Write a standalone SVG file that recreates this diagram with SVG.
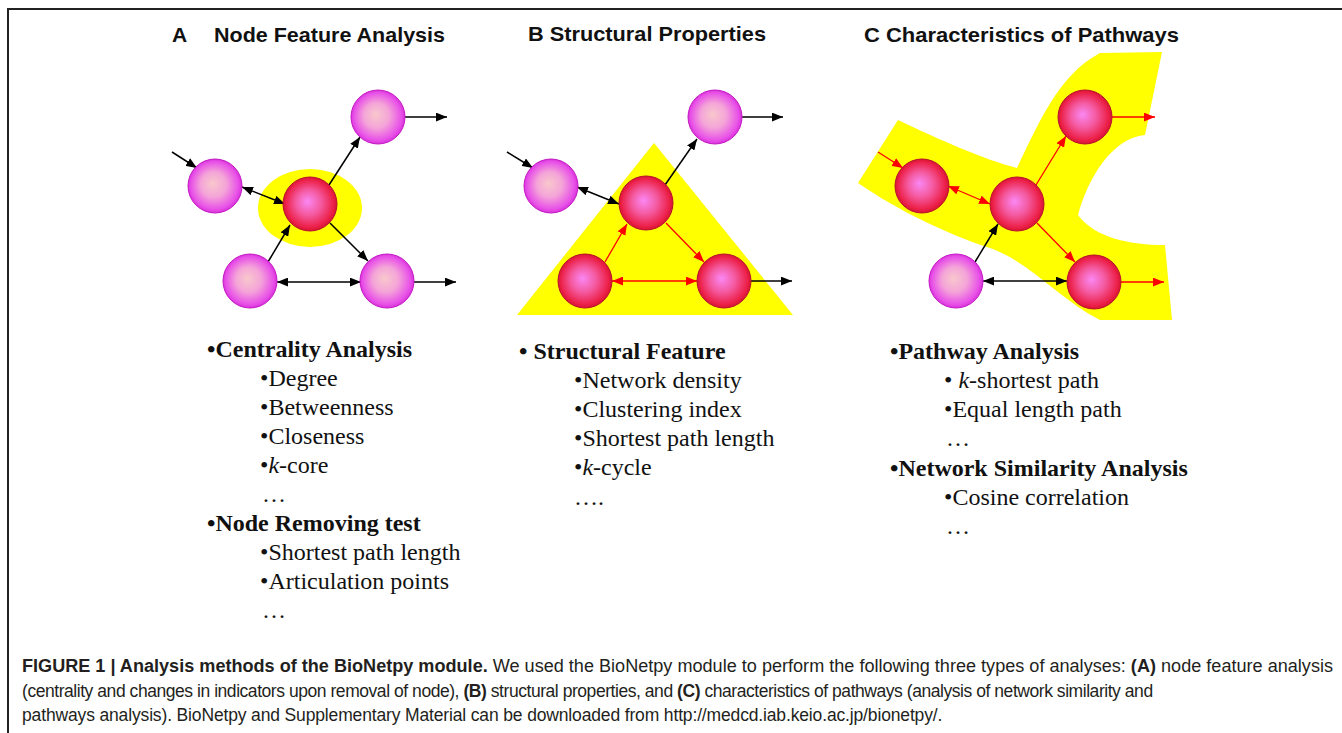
<svg xmlns="http://www.w3.org/2000/svg" width="1342" height="733" viewBox="0 0 1342 733">
  <style>
    .hdr { font-family: "Liberation Sans", Arial, sans-serif; font-weight: bold; font-size: 21px; fill: #111; }
    .lst { font-family: "Liberation Serif", "Times New Roman", serif; font-size: 24px; fill: #111; }
    .lst .b { font-weight: bold; }
    .cap { font-family: "Liberation Sans", Arial, sans-serif; font-size: 17.5px; fill: #231f20; }
    .cap .b { font-weight: bold; }
    .k { stroke: #000; stroke-width: 1.5; fill: none; }
    .r { stroke: #ff0000; stroke-width: 1.3; fill: none; }
    .hi { fill: #ffff00; }
    .pink { fill: url(#gPink); stroke: #c418c4; stroke-width: 1; }
    .red { fill: url(#gRed); stroke: #b8102c; stroke-width: 1; }
  </style>
  <defs>
    <radialGradient id="gPink" cx="50%" cy="50%" r="52%" fx="45%" fy="45%">
      <stop offset="0" stop-color="#f8c8cc"/>
      <stop offset="0.45" stop-color="#f4a4d8"/>
      <stop offset="0.85" stop-color="#e850e8"/>
      <stop offset="1" stop-color="#d428d4"/>
    </radialGradient>
    <radialGradient id="gRed" cx="50%" cy="50%" r="52%" fx="45%" fy="45%">
      <stop offset="0" stop-color="#fa88f4"/>
      <stop offset="0.45" stop-color="#f45aa0"/>
      <stop offset="0.85" stop-color="#ec2048"/>
      <stop offset="1" stop-color="#d0102e"/>
    </radialGradient>
    <marker id="ak" viewBox="0 0 10 8" refX="10" refY="4" markerWidth="11" markerHeight="9" markerUnits="userSpaceOnUse" orient="auto-start-reverse">
      <path d="M0,0 L10,4 L0,8 z" fill="#000"/>
    </marker>
    <marker id="ar" viewBox="0 0 10 8" refX="10" refY="4" markerWidth="11" markerHeight="9" markerUnits="userSpaceOnUse" orient="auto-start-reverse">
      <path d="M0,0 L10,4 L0,8 z" fill="#ff0000"/>
    </marker>
  </defs>

  <rect width="1342" height="733" fill="#fff"/>
  <!-- figure frame -->
  <path d="M8,733 V9 H1342" fill="none" stroke="#222" stroke-width="2"/>

  <!-- panel headers -->
  <g id="headers">
    <text class="hdr" x="172" y="42">A</text>
    <text class="hdr" x="214" y="42" textLength="231" lengthAdjust="spacingAndGlyphs">Node Feature Analysis</text>
    <text class="hdr" x="528" y="41" textLength="238" lengthAdjust="spacingAndGlyphs">B Structural Properties</text>
    <text class="hdr" x="864" y="42" textLength="315" lengthAdjust="spacingAndGlyphs">C  Characteristics of Pathways</text>
  </g>

  <!-- highlighted regions -->
  <g id="highlights">
    <ellipse class="hi" cx="310" cy="208" rx="52" ry="39"/>
    <polygon class="hi" points="654,143 793,315 517,315"/>
    <path class="hi" d="M898,120 C940,140 985,160 1017,168 C1038,125 1058,75 1100,53 L1162,52 L1145,135 C1112,138 1088,178 1078,215 C1095,238 1130,245 1165,245 L1172,320 L1100,320 C1060,300 1030,262 990,248 C950,235 900,212 858,183 Z"/>
  </g>

  <!-- connectors -->
  <g id="connectors">
    <!-- A -->
    <line class="k" x1="172" y1="152" x2="197" y2="168" marker-end="url(#ak)"/>
    <line class="k" x1="242" y1="187" x2="285" y2="204" marker-start="url(#ak)" marker-end="url(#ak)"/>
    <line class="k" x1="329" y1="185" x2="360" y2="137" marker-end="url(#ak)"/>
    <line class="k" x1="405" y1="117" x2="447" y2="117" marker-end="url(#ak)"/>
    <line class="k" x1="268" y1="262" x2="290" y2="225" marker-end="url(#ak)"/>
    <line class="k" x1="330" y1="223" x2="368" y2="261" marker-end="url(#ak)"/>
    <line class="k" x1="277" y1="282" x2="361" y2="282" marker-start="url(#ak)" marker-end="url(#ak)"/>
    <line class="k" x1="414" y1="282" x2="456" y2="282" marker-end="url(#ak)"/>
    <!-- B -->
    <line class="k" x1="507" y1="152" x2="533" y2="168" marker-end="url(#ak)"/>
    <line class="k" x1="577" y1="187" x2="619" y2="204" marker-start="url(#ak)" marker-end="url(#ak)"/>
    <line class="k" x1="665" y1="185" x2="697" y2="139" marker-end="url(#ak)"/>
    <line class="k" x1="742" y1="117" x2="783" y2="117" marker-end="url(#ak)"/>
    <line class="r" x1="605" y1="262" x2="627" y2="224" marker-end="url(#ar)"/>
    <line class="r" x1="666" y1="223" x2="704" y2="262" marker-end="url(#ar)"/>
    <line class="r" x1="612" y1="281" x2="697" y2="281" marker-start="url(#ar)" marker-end="url(#ar)"/>
    <line class="k" x1="751" y1="281" x2="792" y2="281" marker-end="url(#ak)"/>
    <!-- C -->
    <line class="r" x1="878" y1="152" x2="903" y2="168" marker-end="url(#ar)"/>
    <line class="r" x1="948" y1="186" x2="990" y2="204" marker-start="url(#ar)" marker-end="url(#ar)"/>
    <line class="r" x1="1036" y1="185" x2="1066" y2="136" marker-end="url(#ar)"/>
    <line class="r" x1="1112" y1="117" x2="1155" y2="117" marker-end="url(#ar)"/>
    <line class="k" x1="975" y1="262" x2="998" y2="224" marker-end="url(#ak)"/>
    <line class="r" x1="1037" y1="223" x2="1075" y2="262" marker-end="url(#ar)"/>
    <line class="k" x1="983" y1="281" x2="1067" y2="281" marker-start="url(#ak)" marker-end="url(#ak)"/>
    <line class="r" x1="1121" y1="282" x2="1164" y2="282" marker-end="url(#ar)"/>
  </g>

  <!-- panel A nodes -->
  <g id="a-n1"><circle class="pink" cx="215" cy="186" r="27"/></g>
  <g id="a-n2"><circle class="pink" cx="378" cy="117" r="27"/></g>
  <g id="a-hub"><circle class="red" cx="310" cy="204" r="27"/></g>
  <g id="a-n3"><circle class="pink" cx="250" cy="281" r="27"/></g>
  <g id="a-n4"><circle class="pink" cx="387" cy="281" r="27"/></g>

  <!-- panel B nodes -->
  <g id="b-n1"><circle class="pink" cx="551" cy="186" r="27"/></g>
  <g id="b-n2"><circle class="pink" cx="715" cy="117" r="27"/></g>
  <g id="b-n3"><circle class="red" cx="646" cy="203" r="27"/></g>
  <g id="b-n4"><circle class="red" cx="585" cy="281" r="27"/></g>
  <g id="b-n5"><circle class="red" cx="724" cy="281" r="27"/></g>

  <!-- panel C nodes -->
  <g id="c-n1"><circle class="red" cx="922" cy="186" r="27"/></g>
  <g id="c-n2"><circle class="red" cx="1085" cy="117" r="27"/></g>
  <g id="c-n3"><circle class="red" cx="1017" cy="204" r="27"/></g>
  <g id="c-n4"><circle class="pink" cx="956" cy="281" r="27"/></g>
  <g id="c-n5"><circle class="red" cx="1094" cy="282" r="27"/></g>

  <!-- method lists -->
  <g id="list-a" class="lst">
    <text x="207" y="357" class="b">•Centrality Analysis</text>
    <text x="260" y="386">•Degree</text>
    <text x="260" y="415">•Betweenness</text>
    <text x="260" y="444">•Closeness</text>
    <text x="260" y="473">•<tspan font-style="italic">k</tspan>-core</text>
    <text x="262" y="502">…</text>
    <text x="207" y="531" class="b">•Node Removing test</text>
    <text x="260" y="560">•Shortest path length</text>
    <text x="260" y="589">•Articulation points</text>
    <text x="262" y="618">…</text>
  </g>
  <g id="list-b" class="lst">
    <text x="519" y="359" class="b">• Structural Feature</text>
    <text x="574" y="388">•Network density</text>
    <text x="574" y="417">•Clustering index</text>
    <text x="574" y="446">•Shortest path length</text>
    <text x="574" y="475">•<tspan font-style="italic">k</tspan>-cycle</text>
    <text x="574" y="505">….</text>
  </g>
  <g id="list-c" class="lst">
    <text x="890" y="359" class="b">•Pathway Analysis</text>
    <text x="944" y="388">• <tspan font-style="italic">k</tspan>-shortest path</text>
    <text x="944" y="417">•Equal length path</text>
    <text x="946" y="446">…</text>
    <text x="890" y="476" class="b">•Network Similarity Analysis</text>
    <text x="944" y="505">•Cosine correlation</text>
    <text x="946" y="534">…</text>
  </g>

  <!-- caption -->
  <g id="caption" class="cap">
    <text x="22" y="672" textLength="1311" lengthAdjust="spacingAndGlyphs"><tspan class="b">FIGURE 1 | Analysis methods of the BioNetpy module.</tspan> We used the BioNetpy module to perform the following three types of analyses: <tspan class="b">(A)</tspan> node feature analysis</text>
    <text x="22" y="697" letter-spacing="-0.45">(centrality and changes in indicators upon removal of node), <tspan class="b">(B)</tspan> structural properties, and <tspan class="b">(C)</tspan> characteristics of pathways (analysis of network similarity and</text>
    <text x="22" y="721" letter-spacing="-0.15">pathways analysis). BioNetpy and Supplementary Material can be downloaded from http://medcd.iab.keio.ac.jp/bionetpy/.</text>
  </g>
</svg>
